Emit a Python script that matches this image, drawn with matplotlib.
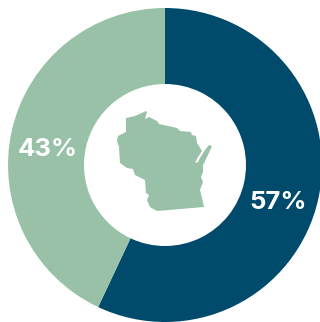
import matplotlib
matplotlib.use('Agg')
import matplotlib.pyplot as plt
from matplotlib.patches import Polygon

# shares of the ring
labels = ['57%', '43%']
values = [57, 43]
colors = ['#004b6b', '#98c1a8']

# state outline, in picture pixels
outline_x = [126, 135, 146, 147, 145, 149, 157, 159, 177, 180, 191, 192, 196, 197, 202, 198,
             195, 198, 200, 205, 209, 212, 208, 203, 203, 201, 203, 200, 202, 204, 157, 150, 147,
             149, 146, 145, 135, 133, 127, 120, 119, 117, 118, 126]
outline_y = [118, 116, 111, 112, 119, 117, 121, 124, 128, 131, 132, 135, 136, 143, 151, 157,
             163, 162, 158, 150, 145, 146, 155, 165, 172, 177, 182, 190, 198, 207, 211, 207, 200,
             195, 193, 180, 175, 169, 168, 163, 147, 141, 136, 132]

W, H = 320, 322

fig = plt.figure(figsize=(W / 100, H / 100), dpi=100)
ax = fig.add_axes([0, 0, 1, 1])

# 顺时针从正上方开始
ax.pie(values, colors=colors, startangle=90, counterclock=False,
       center=(165, H - 165), radius=157, wedgeprops=dict(width=76, linewidth=0))

ax.add_patch(Polygon(list(zip(outline_x, [H - y for y in outline_y])),
                     closed=True, facecolor=colors[1], edgecolor='none'))

ax.text(278, H - 200, labels[0], color='white', fontsize=18.5, fontweight='bold',
        family='Inter', ha='center', va='center_baseline')
ax.text(47.5, H - 147, labels[1], color='white', fontsize=18.5, fontweight='bold',
        family='Inter', ha='center', va='center_baseline')

ax.set_xlim(0, W)
ax.set_ylim(0, H)
ax.set_aspect('equal')
ax.axis('off')

fig.savefig('out.png', dpi=100)
